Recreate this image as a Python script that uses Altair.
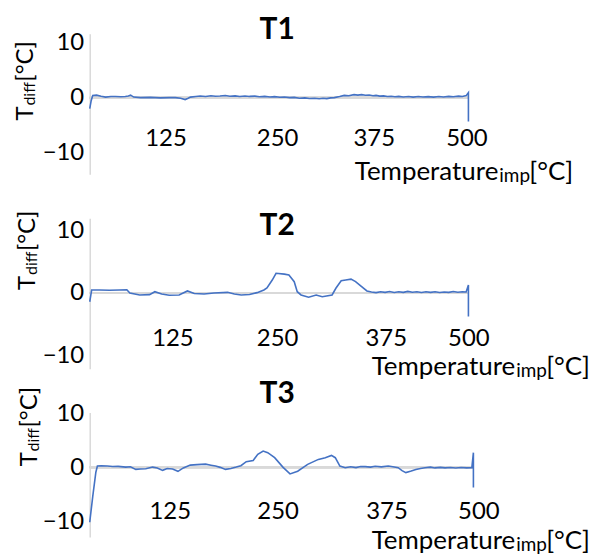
import altair as alt
import pandas as pd

# ---------------- data ----------------
x1 = [0, 2, 4, 9, 15, 21, 28, 34, 41, 47, 51, 54, 58, 67, 80, 93, 105, 113, 120, 126,
      130, 133, 140, 146, 153, 160, 166, 172, 179, 185, 192, 198, 205, 211, 218, 224, 231, 238, 244, 251,
      257, 264, 270, 277, 284, 290, 297, 303, 308, 313, 318, 323, 330, 336, 342, 349, 354, 359, 364, 369,
      374, 378, 383, 388, 393, 398, 403, 408, 414, 421, 427, 434, 440, 447, 454, 461, 467, 474, 480, 487,
      492, 497, 500, 500]
y1 = [-2.0, -0.5, 0.4, 0.45, 0.25, 0.1, 0.2, 0.2, 0.15, 0.2, 0.3, 0.45, 0.1, 0.0, 0.05, -0.05, 0.0, 0.0, -0.1, -0.35,
      -0.1, 0.1, 0.2, 0.3, 0.22, 0.35, 0.25, 0.3, 0.38, 0.25, 0.32, 0.2, 0.3, 0.22, 0.28, 0.15, 0.22, 0.12, 0.18, 0.08,
      0.12, 0.0, 0.05, -0.1, -0.05, -0.15, -0.1, -0.2, -0.12, -0.18, -0.05, 0.0, 0.2, 0.4, 0.35, 0.55, 0.45, 0.55, 0.42, 0.48,
      0.35, 0.4, 0.28, 0.32, 0.2, 0.26, 0.15, 0.22, 0.12, 0.2, 0.1, 0.2, 0.12, 0.18, 0.1, 0.2, 0.12, 0.22, 0.15, 0.27,
      0.2, 0.36, 0.9, -4.3]

x2 = [0, 2.6, 13, 26, 39, 49, 53, 66, 79, 86, 95, 105, 118, 129, 138, 151, 164, 182, 191, 200,
      211, 221, 230, 234, 241, 246, 257, 263, 270, 274, 279, 289, 299, 307, 320, 325, 332, 338, 345, 351,
      359, 366, 372, 378, 384, 390, 396, 402, 408, 414, 420, 426, 432, 438, 444, 450, 456, 462, 468, 474,
      480, 486, 492, 497, 500, 500]
y2 = [-1.4, 0.48, 0.48, 0.43, 0.48, 0.52, 0.0, -0.32, -0.27, 0.2, -0.16, -0.37, -0.32, 0.32, -0.08, -0.16, 0.0, 0.1, -0.16, -0.32,
      -0.24, 0.05, 0.48, 0.8, 2.06, 3.13, 3.0, 2.86, 1.8, 0.2, -0.32, -0.68, -0.32, -0.59, -0.32, 0.75, 1.95, 2.06, 2.2, 1.8,
      1.0, 0.32, 0.15, 0.05, 0.2, 0.1, 0.22, 0.08, 0.18, 0.1, 0.25, 0.12, 0.2, 0.08, 0.18, 0.1, 0.2, 0.08, 0.15, 0.1,
      0.22, 0.12, 0.18, 0.16, 1.27, -3.76]

x3 = [0, 4, 8, 10, 15, 23, 30, 37, 47, 53, 60, 66, 73, 82, 88, 95, 101, 108, 115, 122,
      131, 140, 151, 158, 164, 170, 177, 184, 191, 197, 204, 213, 219, 226, 232, 241, 252, 261, 271, 284,
      298, 307, 315, 320, 326, 333, 340, 347, 353, 359, 366, 372, 380, 389, 395, 402, 407, 412, 419, 425,
      431, 437, 444, 450, 457, 463, 470, 477, 484, 491, 498, 500, 500]
y3 = [-10.1, -5.3, -0.9, 0.24, 0.3, 0.24, 0.15, 0.18, 0.05, 0.1, -0.37, -0.3, -0.24, 0.05, -0.1, -0.55, -0.2, -0.31, -0.73, -0.1,
      0.42, 0.5, 0.6, 0.4, 0.24, 0.0, -0.37, -0.2, 0.05, 0.3, 1.05, 1.28, 2.4, 3.0, 2.7, 1.78, 0.0, -1.2, -0.7, 0.55,
      1.47, 1.78, 2.2, 1.78, 0.24, -0.06, 0.1, -0.05, 0.15, 0.13, 0.05, 0.2, 0.1, 0.24, 0.1, -0.06, -0.6, -0.97, -0.68, -0.4,
      -0.2, -0.06, 0.05, -0.1, 0.0, -0.1, -0.02, -0.12, -0.03, -0.1, -0.05, 2.7, -3.7]

panel_titles = ["T1", "T2", "T3"]
x_ticks = [125, 250, 375, 500]
y_ticks = [-10, 0, 10]
y_title = ["T", "diff", "[°C]"]
x_title = ["Temperature", "imp", "[°C]"]

FONT = "Lato"
BLUE = "#4472c4"
GRAY = "#d9d9d9"


def label_shift(shifts):
    return {"condition": [{"test": f"datum.value === {k}", "value": v} for k, v in shifts.items()],
            "value": 0}


def panel(xs, ys, title, width, height, ydom, xoff, shifts, ytpos, xtpos, tpos):
    df = pd.DataFrame({"x": xs, "y": ys, "i": list(range(len(xs)))})
    zero = alt.Chart(df).mark_rule(color=GRAY, strokeWidth=2).encode(y=alt.datum(0))
    line = alt.Chart(df).mark_line(color=BLUE, strokeWidth=1.6).encode(
        x=alt.X("x:Q", scale=alt.Scale(domain=[0, 500], nice=False),
                axis=alt.Axis(values=x_ticks, title=None, grid=False, ticks=False, domain=False,
                              labelFontSize=24, labelPadding=0, labelFlush=False, labelOverlap=False,
                              labelFont=FONT, labelColor="black", offset=xoff,
                              labelOffset=label_shift(shifts))),
        y=alt.Y("y:Q", scale=alt.Scale(domain=ydom, nice=False, zero=False),
                axis=alt.Axis(values=y_ticks, title=None, grid=False, ticks=False,
                              domainColor=GRAY, domainWidth=1.5, labelFontSize=24, labelPadding=6,
                              labelFont=FONT, labelColor="black")),
        order=alt.Order("i:Q"),
    )
    one = pd.DataFrame({"k": [0]})
    ttl = alt.Chart(one).mark_text(text=title, font=FONT, fontSize=30, fontWeight="bold",
                                   align="center", baseline="alphabetic", color="black").encode(
        x=alt.value(tpos[0]), y=alt.value(tpos[1]))
    bx, sy = ytpos
    yt1 = alt.Chart(one).mark_text(text=y_title[0], font=FONT, fontSize=24, angle=270, align="left",
                                   baseline="alphabetic", color="black").encode(
        x=alt.value(bx), y=alt.value(sy))
    yt2 = alt.Chart(one).mark_text(text=y_title[1], font=FONT, fontSize=16, angle=270, align="left",
                                   baseline="alphabetic", color="black").encode(
        x=alt.value(bx + 2), y=alt.value(sy - 15))
    yt3 = alt.Chart(one).mark_text(text=y_title[2], font=FONT, fontSize=24, angle=270, align="left",
                                   baseline="alphabetic", color="black").encode(
        x=alt.value(bx), y=alt.value(sy - 39))
    jx, by = xtpos
    xt1 = alt.Chart(one).mark_text(text=x_title[0], font=FONT, fontSize=26, align="right",
                                   baseline="alphabetic", color="black").encode(
        x=alt.value(jx), y=alt.value(by))
    xt2 = alt.Chart(one).mark_text(text=x_title[1], font=FONT, fontSize=19, align="left",
                                   baseline="alphabetic", color="black").encode(
        x=alt.value(jx + 1), y=alt.value(by + 2))
    xt3 = alt.Chart(one).mark_text(text=x_title[2], font=FONT, fontSize=26, align="left",
                                   baseline="alphabetic", color="black").encode(
        x=alt.value(jx + 31), y=alt.value(by))
    return alt.layer(zero, line, ttl, yt1, yt2, yt3, xt1, xt2, xt3).properties(width=width, height=height)


p1 = panel(x1, y1, panel_titles[0], 380, 141, [-13.87, 11.53], -47.5, {125: -19, 250: -2, 500: -2},
           (-57, 87), (410, 147), (188, 5))
p2 = panel(x2, y2, panel_titles[1], 380, 151, [-12.06, 11.9], -42, {125: -12, 250: -2, 375: 12},
           (-55, 72), (427, 157), (188, 17))
p3 = panel(x3, y3, panel_titles[2], 385, 125, [-12.84, 10.09], -37.5, {125: -16, 250: -4, 375: 9, 500: 5},
           (-53, 54), (427, 137), (188, -10))

chart = alt.vconcat(p1, p2, p3, spacing=44, bounds="flush").properties(
    padding={"left": 6, "top": 6, "right": 0, "bottom": 0}
).configure_view(stroke=None)

chart.save("out.html", embed_options={"renderer": "svg", "actions": False})
